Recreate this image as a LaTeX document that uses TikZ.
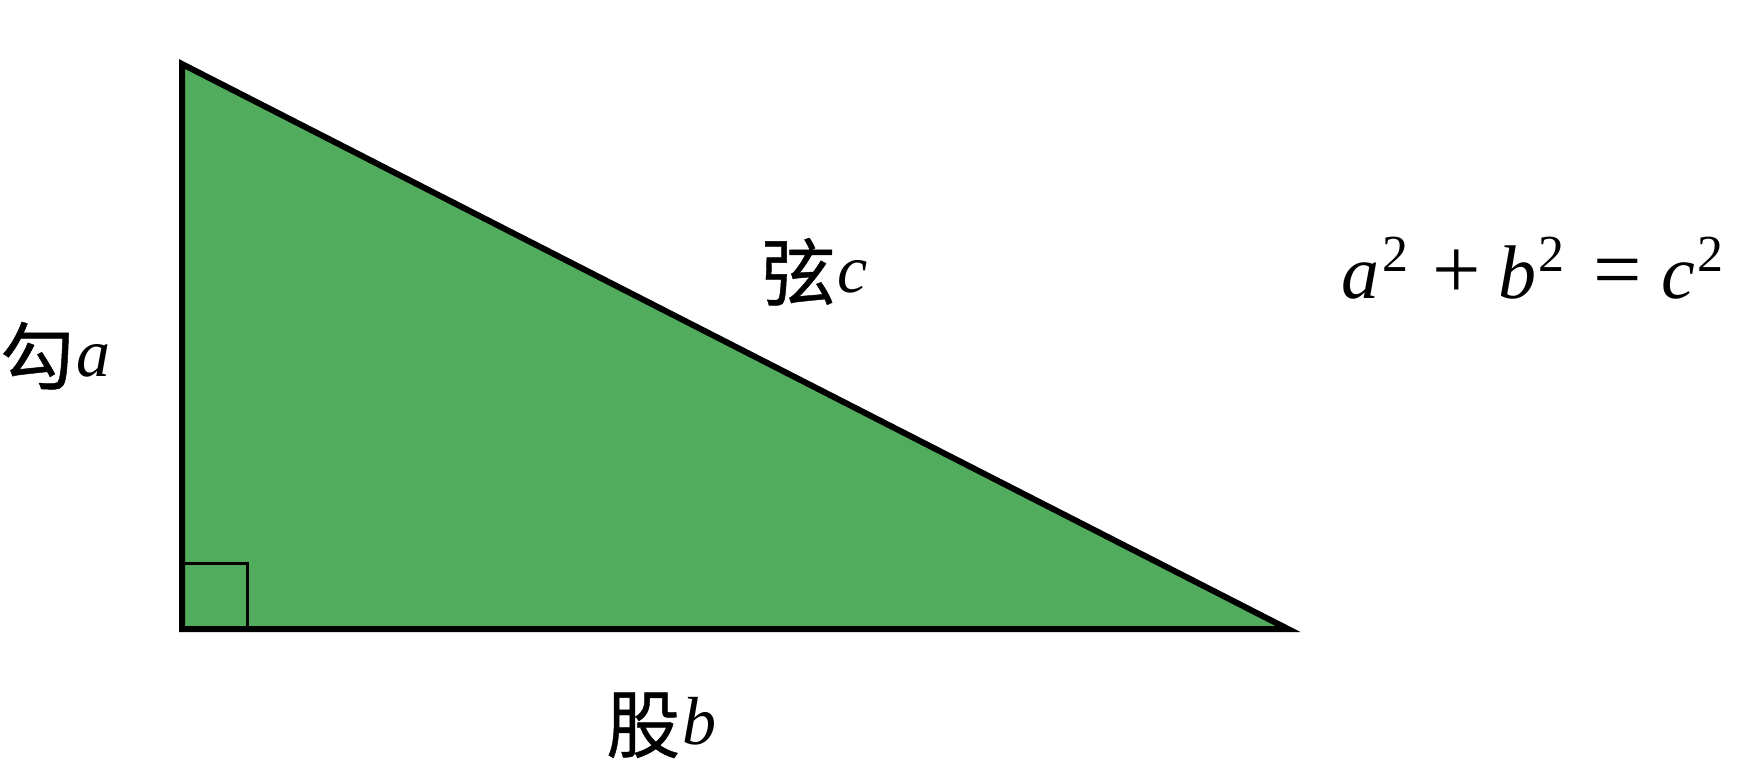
\documentclass[tikz,border=0pt]{standalone}
\usepackage{fontspec}
\setmainfont{Liberation Serif}
\newfontfamily\cjk[FakeBold=0.6]{Noto Sans CJK SC}
\definecolor{trifill}{RGB}{81,173,93}
\newcommand{\cj}[1]{\raisebox{-8pt}{\fontsize{74}{78}\selectfont\cjk #1}\hspace{2pt}}
\newcommand{\sq}{\raisebox{27pt}{\fontsize{52}{52}\selectfont 2}}
\begin{document}
\begin{tikzpicture}[x=1pt,y=-1pt,
  lbl/.style={inner sep=0pt,anchor=base west,font=\fontsize{68}{72}\selectfont},
  eqn/.style={inner sep=0pt,anchor=base west,font=\fontsize{76}{80}\selectfont}]
\useasboundingbox (0,0) rectangle (1760,766);
\coordinate (A) at (182,64);
\coordinate (C) at (182,629);
\coordinate (B) at (1288,629);
\filldraw[fill=trifill,draw=black,line width=6pt,line join=miter] (A) -- (C) -- (B) -- cycle;
\coordinate (s1) at (182,563);
\coordinate (s2) at (247,563);
\coordinate (s3) at (247,629);
\draw[line width=3pt] (s1) -- (s2) -- (s3);
\node[lbl] (ga) at (0,376) {\cj{勾}\textit{a}};
\node[lbl] (xc) at (761,292) {\cj{弦}\textit{c}};
\node[lbl] (gb) at (606,744) {\cj{股}\textit{b}};
\node[eqn] (eq) at (1341,298) {\makebox[41pt][l]{\textit{a}}\makebox[50pt][l]{\sq}\makebox[66pt][l]{\fontsize{86}{86}\selectfont +}\makebox[40pt][l]{\textit{b}}\makebox[55pt][l]{\sq}\makebox[68pt][l]{\fontsize{86}{86}\selectfont =}\makebox[36pt][l]{\textit{c}}\sq};
\end{tikzpicture}
\end{document}
